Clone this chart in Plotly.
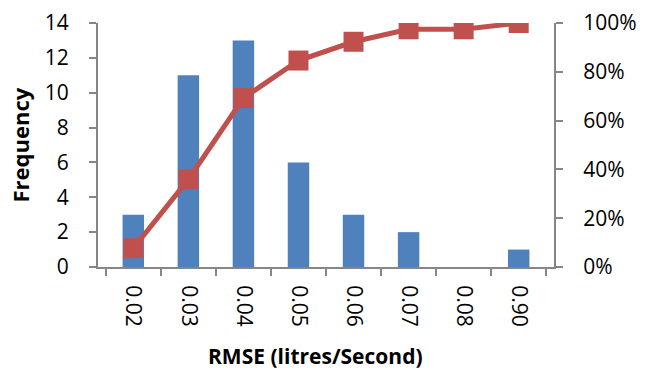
import plotly.graph_objects as go

# Histogram of RMSE values with cumulative percentage
categories = ["0.02", "0.03", "0.04", "0.05", "0.06", "0.07", "0.08", "0.90"]
frequency = [3, 11, 13, 6, 3, 2, 0, 1]

total = sum(frequency)
cumulative = []
running = 0
for f in frequency:
    running += f
    cumulative.append(running / total)

bar_color = "#4F81BD"
line_color = "#C0504D"
axis_color = "#868686"
font_family = "'Open Sans', sans-serif"

fig = go.Figure()
fig.add_trace(go.Bar(
    x=categories, y=frequency, name="Frequency",
    marker=dict(color=bar_color, line=dict(width=0)),
))
fig.add_trace(go.Scatter(
    x=categories, y=cumulative, name="Cumulative %", yaxis="y2",
    mode="lines+markers",
    line=dict(color=line_color, width=5),
    marker=dict(symbol="square", size=20, color=line_color),
))

axis_common = dict(
    showline=True, linecolor=axis_color, linewidth=2,
    ticks="outside", ticklen=7, tickcolor=axis_color, tickwidth=2,
    showgrid=False, automargin=False,
)

fig.update_layout(
    width=647, height=373,
    margin=dict(l=98, r=93, t=23, b=106),
    paper_bgcolor="white", plot_bgcolor="white",
    showlegend=False,
    bargap=0.61,
    font=dict(family=font_family, color="#000000", size=21),
    xaxis=dict(
        type="category", tickson="boundaries", tickangle=90,
        ticklabelstandoff=12, **axis_common,
    ),
    yaxis=dict(
        range=[0, 14], dtick=2, ticklabelstandoff=16, zeroline=False,
        **axis_common,
    ),
    yaxis2=dict(
        range=[0, 1], dtick=0.2, tickformat=".0%",
        overlaying="y", side="right", ticklabelstandoff=16, zeroline=False,
        **axis_common,
    ),
    annotations=[
        dict(text="<b>RMSE (litres/Second)</b>", xref="paper", yref="paper",
             x=0.476, y=-0.365, xanchor="center", yanchor="middle",
             showarrow=False, font=dict(size=21)),
        dict(text="<b>Frequency</b>", xref="paper", yref="paper",
             x=-0.17, y=0.5, xanchor="center", yanchor="middle",
             textangle=-90, showarrow=False, font=dict(size=22)),
    ],
)

fig.write_html("out.html")
